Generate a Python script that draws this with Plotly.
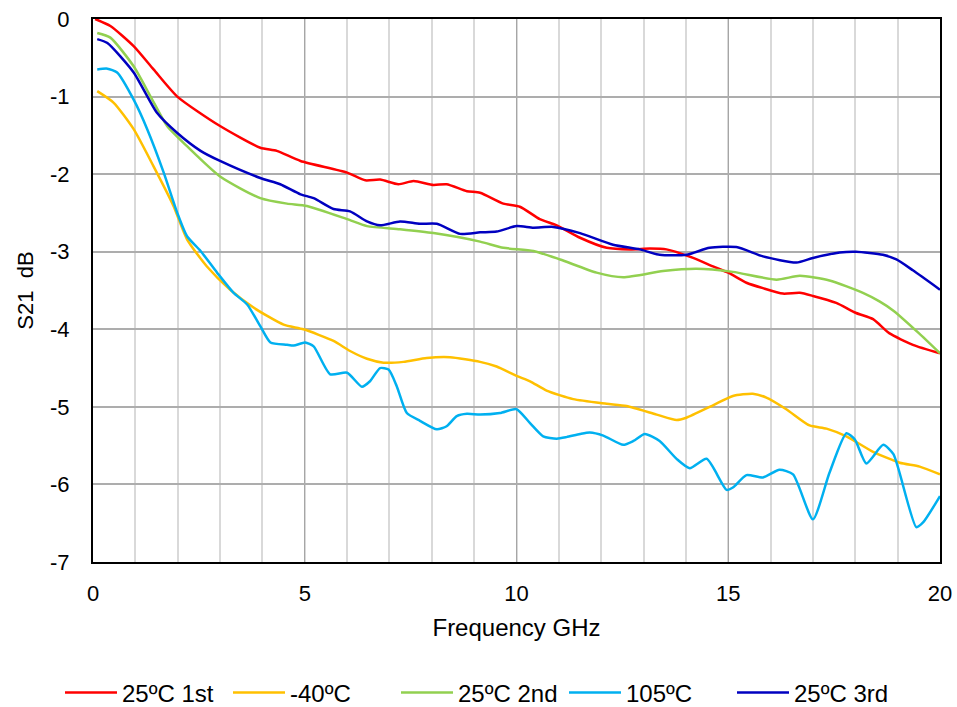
import plotly.graph_objects as go

# ---- data ----
x_25c_1st = [0.05, 0.41, 0.96, 1.43, 1.99, 3.0, 3.95, 4.34, 4.9, 6.0, 6.43, 6.78, 7.21, 7.57, 8.04, 8.35, 8.83,
             9.14, 9.69, 10.08, 10.55, 10.95, 11.5, 12.13, 12.68, 13.15, 13.54, 14.17, 14.64, 15.0, 15.43,
             15.82, 16.29, 16.69, 17.0, 17.55, 18.02, 18.42, 18.8, 19.36, 20.0]
y_25c_1st = [0.0, -0.09, -0.35, -0.65, -1.0, -1.38, -1.66, -1.70, -1.83, -1.98, -2.08, -2.07, -2.13, -2.09, -2.14,
             -2.13, -2.22, -2.24, -2.38, -2.42, -2.58, -2.66, -2.82, -2.95, -2.97, -2.96, -2.97, -3.08, -3.19,
             -3.27, -3.40, -3.47, -3.54, -3.53, -3.57, -3.66, -3.79, -3.87, -4.05, -4.20, -4.31]

x_m40c = [0.1, 0.49, 0.96, 1.43, 1.9, 2.22, 2.69, 3.24, 3.79, 4.5, 4.97, 5.68, 6.07, 6.47, 6.86, 7.33, 7.88,
          8.43, 9.14, 9.53, 10.0, 10.32, 10.71, 11.34, 12.13, 12.6, 13.31, 13.78, 14.01, 14.64, 15.11, 15.58,
          15.9, 16.37, 16.92, 17.32, 17.79, 18.42, 19.05, 19.52, 20.0]
y_m40c = [-0.93, -1.08, -1.42, -1.90, -2.41, -2.84, -3.19, -3.49, -3.72, -3.94, -4.0, -4.15, -4.28, -4.38, -4.43,
          -4.42, -4.37, -4.36, -4.42, -4.48, -4.60, -4.67, -4.79, -4.90, -4.96, -4.99, -5.10, -5.17, -5.14,
          -4.98, -4.86, -4.83, -4.88, -5.03, -5.24, -5.28, -5.38, -5.58, -5.72, -5.77, -5.87]

x_25c_2nd = [0.1, 0.41, 0.96, 1.36, 1.75, 2.22, 3.0, 3.95, 4.58, 5.05, 6.0, 6.47, 7.25, 8.04, 9.14, 9.69, 10.4,
             11.03, 11.89, 12.52, 13.46, 14.25, 15.11, 16.14, 16.69, 17.39, 18.18, 18.57, 18.9, 19.5, 20.0]
y_25c_2nd = [-0.18, -0.24, -0.61, -1.0, -1.38, -1.64, -2.03, -2.31, -2.38, -2.41, -2.58, -2.67, -2.71, -2.76,
             -2.87, -2.95, -2.99, -3.10, -3.27, -3.33, -3.25, -3.22, -3.26, -3.36, -3.31, -3.37, -3.53, -3.64,
             -3.76, -4.05, -4.31]

x_105c = [0.1, 0.34, 0.57, 0.96, 1.28, 1.67, 1.99, 2.22, 2.54, 2.93, 3.32, 3.64, 3.95, 4.19, 4.58, 4.74, 5.01,
          5.21, 5.6, 6.0, 6.35, 6.54, 6.78, 6.98, 7.17, 7.41, 7.72, 8.12, 8.35, 8.59, 8.83, 9.14, 9.61, 10.0,
          10.32, 10.63, 10.95, 11.18, 11.5, 11.73, 12.05, 12.52, 12.76, 13.03, 13.38, 13.78, 14.09, 14.49,
          14.96, 15.11, 15.43, 15.82, 16.21, 16.53, 17.0, 17.39, 17.79, 17.99, 18.26, 18.66, 18.9, 19.44,
          19.6, 20.0]
y_105c = [-0.65, -0.64, -0.69, -1.04, -1.42, -1.98, -2.50, -2.80, -2.99, -3.27, -3.53, -3.68, -3.96, -4.17,
          -4.20, -4.21, -4.17, -4.22, -4.58, -4.56, -4.74, -4.67, -4.50, -4.52, -4.73, -5.08, -5.18, -5.29,
          -5.25, -5.12, -5.09, -5.10, -5.08, -5.03, -5.21, -5.38, -5.41, -5.39, -5.35, -5.33, -5.37, -5.49,
          -5.44, -5.35, -5.44, -5.67, -5.79, -5.67, -6.07, -6.04, -5.88, -5.91, -5.81, -5.87, -6.45, -5.85,
          -5.34, -5.42, -5.73, -5.49, -5.61, -6.55, -6.49, -6.15]

x_25c_3rd = [0.1, 0.34, 0.96, 1.51, 1.99, 2.54, 3.0, 3.95, 4.42, 4.9, 5.21, 5.68, 6.07, 6.47, 6.78, 7.25, 7.72,
             8.12, 8.67, 9.14, 9.53, 10.0, 10.4, 10.87, 11.5, 12.28, 12.91, 13.38, 14.01, 14.56, 15.19, 15.82,
             16.61, 17.0, 17.63, 18.02, 18.65, 18.97, 19.36, 20.0]
y_25c_3rd = [-0.26, -0.31, -0.69, -1.21, -1.47, -1.70, -1.83, -2.05, -2.13, -2.26, -2.31, -2.45, -2.48, -2.61,
             -2.66, -2.61, -2.64, -2.64, -2.77, -2.75, -2.74, -2.67, -2.69, -2.68, -2.76, -2.91, -2.97, -3.04,
             -3.04, -2.95, -2.94, -3.06, -3.14, -3.08, -3.01, -3.00, -3.04, -3.10, -3.24, -3.49]

names = ["25ºC 1st", "-40ºC", "25ºC 2nd", "105ºC", "25ºC 3rd"]
colors = ["#FF0000", "#FFC000", "#92D050", "#00B0F0", "#0000C0"]
xs_all = [x_25c_1st, x_m40c, x_25c_2nd, x_105c, x_25c_3rd]
ys_all = [y_25c_1st, y_m40c, y_25c_2nd, y_105c, y_25c_3rd]

x_ticks = [0, 5, 10, 15, 20]
y_ticks = [0, -1, -2, -3, -4, -5, -6, -7]
y_tick_text = ["0", "-1", "-2", "-3", "-4", "-5", "-6", "-7"]

FONT = "Liberation Sans, Arial, sans-serif"

fig = go.Figure()
for name, xs, ys, color in zip(names, xs_all, ys_all, colors):
    fig.add_trace(go.Scatter(
        x=xs, y=ys, name=name, mode="lines",
        line=dict(color=color, width=2.5, shape="spline", smoothing=0.6),
    ))

fig.update_layout(
    template="none",
    width=957, height=707,
    margin=dict(l=93, r=17, t=19, b=145, autoexpand=False),
    paper_bgcolor="white", plot_bgcolor="white",
    font=dict(family=FONT, size=22, color="black"),
    showlegend=True,
    legend=dict(orientation="h", xref="paper", yref="paper",
                x=(60 - 93) / 847, xanchor="left", y=-(693 - 562) / 543, yanchor="middle",
                font=dict(size=24), itemwidth=52, tracegroupgap=0, bgcolor="rgba(0,0,0,0)",
                entrywidth=101, entrywidthmode="pixels"),
)
fig.update_xaxes(
    range=[0, 20], tickvals=x_ticks, ticks="", showline=True, linecolor="black", linewidth=2, mirror=True,
    showgrid=True, gridcolor="#A6A6A6", gridwidth=1,
    minor=dict(dtick=1, showgrid=True, gridcolor="#D9D9D9", gridwidth=1.5),
    title=dict(text="Frequency GHz", font=dict(size=24), standoff=14),
    zeroline=False, tickfont=dict(size=22), ticklabelstandoff=11, automargin=False,
)
fig.update_yaxes(
    range=[-7, 0], tickvals=y_ticks, ticktext=y_tick_text, ticks="", showline=True, linecolor="black",
    linewidth=2, mirror=True, showgrid=True, gridcolor="#ADADAD", gridwidth=1.5,
    title=dict(text="S21  dB", font=dict(size=22), standoff=10),
    zeroline=False, tickfont=dict(size=22), ticklabelstandoff=17, automargin=False,
)

fig.write_html("out.html")
